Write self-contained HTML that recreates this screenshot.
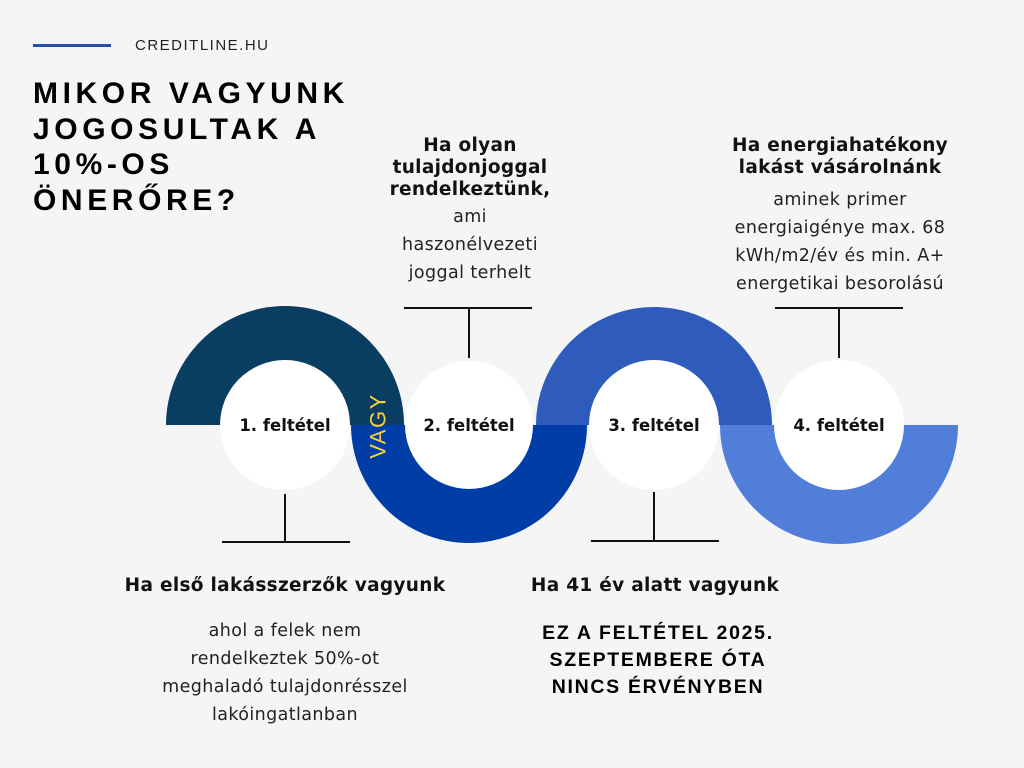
<!DOCTYPE html>
<html><head><meta charset="utf-8"><style>
*{margin:0;padding:0;box-sizing:border-box}
body{width:1024px;height:768px;background:#f5f5f5;position:relative;overflow:hidden;font-family:"DejaVu Sans","Liberation Sans",sans-serif;color:#111}
.a{position:absolute}
.t{position:absolute;text-align:center;font-size:17.5px;line-height:28px;color:#222;letter-spacing:0.4px}
.h{position:absolute;text-align:center;font-weight:bold;font-size:18.5px;line-height:22px;color:#111;letter-spacing:0.3px}
</style></head><body>
<div class="a" style="left:33px;top:44px;width:78px;height:3px;background:#1f4fa8"></div>
<div class="a" style="left:135px;top:37px;font-family:'Liberation Sans',sans-serif;font-size:15px;letter-spacing:1.5px;color:#222">CREDITLINE.HU</div>
<div class="a" style="left:33px;top:76px;font-family:'Liberation Sans',sans-serif;font-weight:bold;font-size:30px;line-height:35.7px;letter-spacing:4.6px;color:#000">MIKOR VAGYUNK<br>JOGOSULTAK A<br>10%-OS<br>ÖNERŐRE?</div>

<svg class="a" style="left:0;top:0" width="1024" height="768">
<path d="M166 425 A119 119 0 0 1 404 425 Z" fill="#0a3d62"/>
<path d="M351 425 A118 118 0 0 0 587 425 Z" fill="#003da6"/>
<path d="M536 425 A118 118 0 0 1 772 425 Z" fill="#2f5bbd"/>
<path d="M720 425 A119 119 0 0 0 958 425 Z" fill="#507ed9"/>
<circle cx="285" cy="425" r="65" fill="#fff"/>
<circle cx="469" cy="425" r="64" fill="#fff"/>
<circle cx="654" cy="425" r="65" fill="#fff"/>
<circle cx="839" cy="425" r="65" fill="#fff"/>
<g stroke="#111" stroke-width="2">
<line x1="285" y1="494" x2="285" y2="542"/><line x1="222" y1="542" x2="350" y2="542"/>
<line x1="469" y1="308" x2="469" y2="358"/><line x1="404" y1="308" x2="532" y2="308"/>
<line x1="654" y1="492" x2="654" y2="541"/><line x1="591" y1="541" x2="719" y2="541"/>
<line x1="839" y1="308" x2="839" y2="358"/><line x1="775" y1="308" x2="903" y2="308"/>
</g>
<g font-family="DejaVu Sans,sans-serif" font-weight="bold" font-size="16.5" fill="#111" text-anchor="middle">
<text x="285" y="431">1. feltétel</text>
<text x="469" y="431">2. feltétel</text>
<text x="654" y="431">3. feltétel</text>
<text x="839" y="431">4. feltétel</text>
</g>
<text x="0" y="0" transform="translate(378,426) rotate(-90)" text-anchor="middle" font-family="Liberation Sans,sans-serif" font-size="22" letter-spacing="1.5" fill="#f5d142" dominant-baseline="central">VAGY</text>
</svg>

<div class="h" style="left:360px;top:135px;width:220px">Ha olyan<br>tulajdonjoggal<br>rendelkeztünk,</div>
<div class="t" style="left:360px;top:203px;width:220px">ami<br>haszonélvezeti<br>joggal terhelt</div>
<div class="h" style="left:690px;top:135px;width:300px">Ha energiahatékony<br>lakást vásárolnánk</div>
<div class="t" style="left:690px;top:186px;width:300px">aminek primer<br>energiaigénye max. 68<br>kWh/m2/év és min. A+<br>energetikai besorolású</div>
<div class="h" style="left:90px;top:575px;width:390px">Ha első lakásszerzők vagyunk</div>
<div class="t" style="left:110px;top:617px;width:350px">ahol a felek nem<br>rendelkeztek 50%-ot<br>meghaladó tulajdonrésszel<br>lakóingatlanban</div>
<div class="h" style="left:495px;top:575px;width:320px">Ha 41 év alatt vagyunk</div>
<div class="a" style="left:500px;top:620px;width:316px;text-align:center;font-family:'Liberation Sans',sans-serif;font-weight:bold;font-size:19.5px;line-height:27px;letter-spacing:1.7px;color:#000">EZ A FELTÉTEL 2025.<br>SZEPTEMBERE ÓTA<br>NINCS ÉRVÉNYBEN</div>
</body></html>
